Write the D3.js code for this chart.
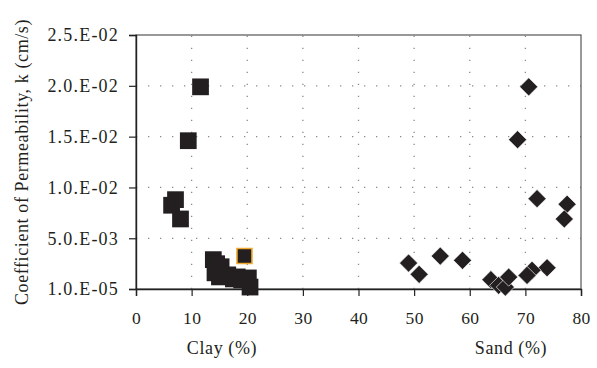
<!DOCTYPE html>
<html>
<head>
<meta charset="utf-8">
<script src="https://cdn.jsdelivr.net/npm/d3@7"></script>
<style>
  body { margin: 0; background: #fff; }
  svg { display: block; }
</style>
</head>
<body>
<svg width="597" height="368"></svg>
<script>
// clay content (%) vs k (cm/s)
const clayX = [6.4, 7.1, 8.0, 9.4, 11.6, 13.9, 14.5, 14.2, 15.3, 15.0, 16.5, 17.5, 18.2, 19.0, 20.2, 20.5];
const clayK = [0.00825, 0.0088, 0.0069, 0.0146, 0.0199, 0.0029, 0.0025, 0.0016, 0.0022, 0.0012, 0.0014, 0.0010, 0.0012, 0.0009, 0.0011, 0.0002];
// the outlined one
const clayMarkX = [19.5];
const clayMarkK = [0.00325];

// sand content (%) vs k (cm/s)
const sandX = [70.6, 68.6, 72.1, 77.5, 77.0, 54.7, 58.7, 49.0, 50.9, 73.9, 71.2, 70.3, 63.8, 65.2, 66.4, 67.0];
const sandK = [0.0199, 0.0147, 0.0089, 0.00835, 0.0069, 0.00325, 0.00283, 0.00256, 0.00145, 0.0021, 0.00185, 0.00135, 0.00093, 0.00037, 0.0002, 0.00118];

const xTicks = [0, 10, 20, 30, 40, 50, 60, 70, 80];
const yTicks = [0.00001, 0.005, 0.01, 0.015, 0.02, 0.025];
const yTickLabels = ["1.0.E-05", "5.0.E-03", "1.0.E-02", "1.5.E-02", "2.0.E-02", "2.5.E-02"];

const svg = d3.select("svg");
const mLeft = 136, mRight = 581, mTop = 35, mBottom = 289;
const serif = "Liberation Serif";
const ink = "#231f20";

const x = d3.scaleLinear().domain([0, 80]).range([mLeft, mRight]);
const y = d3.scaleLinear().domain([0.00001, 0.025]).range([mBottom, mTop]);

// dotted grid
svg.append("g").selectAll("line").data(xTicks.slice(1, -1)).enter().append("line")
    .attr("x1", d => x(d)).attr("x2", d => x(d))
    .attr("y1", mBottom).attr("y2", mTop)
    .attr("stroke", "#8a8a8a").attr("stroke-width", 1.3)
    .attr("stroke-dasharray", "1.3,10.7");
svg.append("g").selectAll("line").data(yTicks.slice(1, -1)).enter().append("line")
    .attr("x1", mLeft).attr("x2", mRight)
    .attr("y1", d => y(d)).attr("y2", d => y(d))
    .attr("stroke", "#8a8a8a").attr("stroke-width", 1.3)
    .attr("stroke-dasharray", "1.3,10.7");

// frame
svg.append("rect")
    .attr("x", mLeft).attr("y", mTop)
    .attr("width", mRight - mLeft).attr("height", mBottom - mTop)
    .attr("fill", "none").attr("stroke", "#555").attr("stroke-width", 1.2);

const yAxis = svg.append("g")
    .attr("transform", `translate(${mLeft},0)`)
    .call(d3.axisLeft(y).tickValues(yTicks).tickSize(7).tickPadding(10)
        .tickFormat((d, i) => yTickLabels[i]));
const xAxis = svg.append("g")
    .attr("transform", `translate(0,${mBottom})`)
    .call(d3.axisBottom(x).tickValues(xTicks).tickSize(7).tickPadding(16));

[yAxis, xAxis].forEach(a => {
    a.attr("font-family", serif);
    a.select(".domain").attr("stroke", "#222").attr("stroke-width", 1.4);
    a.selectAll(".tick line").attr("stroke", "#222").attr("stroke-width", 1.2);
    a.selectAll(".tick text").attr("fill", ink);
});
yAxis.attr("font-size", 18).selectAll(".tick text").attr("letter-spacing", 1.2);
xAxis.attr("font-size", 17.5).selectAll(".tick text").attr("letter-spacing", 0.3);

// points
const sq = d3.symbol().type(d3.symbolSquare).size(280);
const dm = d3.symbol().type(d3.symbolSquare).size(165);

svg.append("g").selectAll("path").data(d3.range(clayX.length)).enter().append("path")
    .attr("d", sq)
    .attr("transform", i => `translate(${x(clayX[i])},${y(clayK[i])})`)
    .attr("fill", ink);

svg.append("g").selectAll("path").data(d3.range(clayMarkX.length)).enter().append("path")
    .attr("d", d3.symbol().type(d3.symbolSquare).size(225))
    .attr("transform", i => `translate(${x(clayMarkX[i])},${y(clayMarkK[i])})`)
    .attr("fill", ink).attr("stroke", "#f0a830").attr("stroke-width", 1.6);

svg.append("g").selectAll("path").data(d3.range(sandX.length)).enter().append("path")
    .attr("d", dm)
    .attr("transform", i => `translate(${x(sandX[i])},${y(sandK[i])}) rotate(45)`)
    .attr("fill", ink).attr("stroke", "#fff").attr("stroke-width", 0.6);

// labels
const labels = svg.append("g").attr("font-family", serif).attr("font-size", 18)
    .attr("fill", ink).attr("letter-spacing", 0.6);
labels.append("text")
    .attr("x", 222).attr("y", 354)
    .attr("text-anchor", "middle")
    .text("Clay (%)");
labels.append("text")
    .attr("x", 511).attr("y", 354)
    .attr("text-anchor", "middle")
    .text("Sand (%)");
labels.append("text")
    .attr("transform", "translate(28,162) rotate(-90)")
    .attr("text-anchor", "middle")
    .text("Coefficient of Permeability, k (cm/s)");
</script>
</body>
</html>
